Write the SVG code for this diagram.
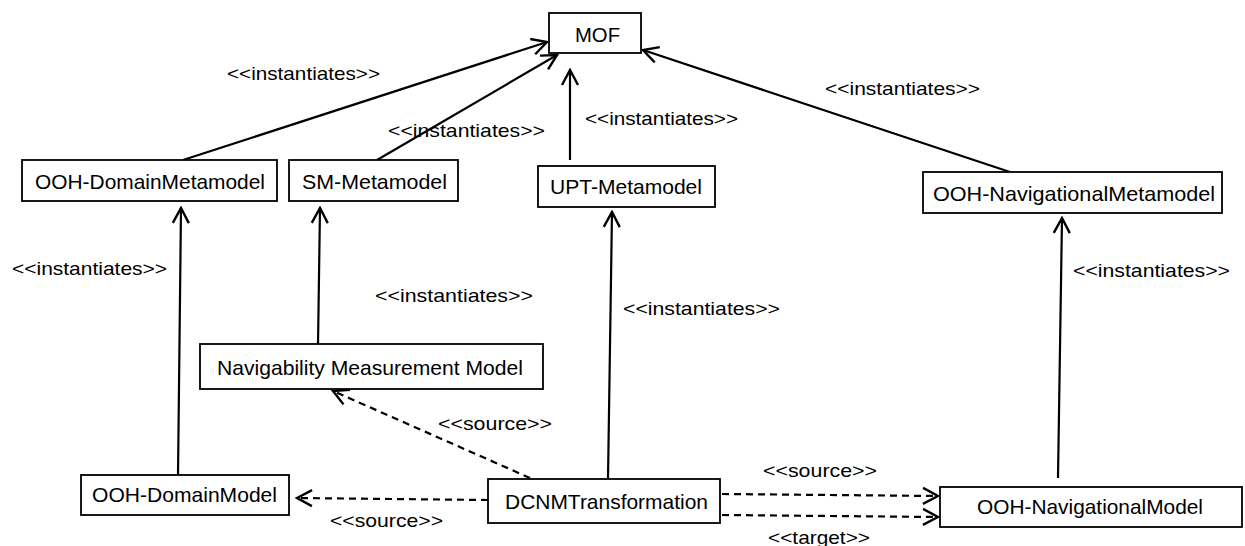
<svg xmlns="http://www.w3.org/2000/svg" width="1245" height="546" viewBox="0 0 1245 546">
<style>
.box{fill:#fff;stroke:#000;stroke-width:1.8}
.nt{font-family:"Liberation Sans",Arial,sans-serif;font-size:21px;fill:#000}
.lb{font-family:"Liberation Sans",Arial,sans-serif;font-size:19px;fill:#000}
.ln{fill:none;stroke:#000;stroke-width:2.2}
.ds{fill:none;stroke:#000;stroke-width:2.2;stroke-dasharray:7 5}
</style>
<defs>
<marker id="arr" viewBox="0 0 20 20" refX="18" refY="10" markerWidth="20" markerHeight="20" markerUnits="userSpaceOnUse" orient="auto">
<path d="M3,2 L18,10 L3,18" fill="none" stroke="#000" stroke-width="2.4"/>
</marker>
</defs>
<g id="connectors">
<line class="ln" x1="183" y1="160" x2="547" y2="42" marker-end="url(#arr)"/>
<line class="ln" x1="377" y1="160" x2="557" y2="55" marker-end="url(#arr)"/>
<line class="ln" x1="570" y1="160" x2="570" y2="70" marker-end="url(#arr)"/>
<line class="ln" x1="1010" y1="172" x2="643" y2="50" marker-end="url(#arr)"/>
<line class="ln" x1="178" y1="475" x2="181" y2="208" marker-end="url(#arr)"/>
<line class="ln" x1="318" y1="345" x2="320" y2="208" marker-end="url(#arr)"/>
<line class="ln" x1="608" y1="479" x2="612" y2="212" marker-end="url(#arr)"/>
<line class="ln" x1="1058" y1="478" x2="1062" y2="218" marker-end="url(#arr)"/>
<line class="ds" x1="530" y1="478" x2="333" y2="391" marker-end="url(#arr)"/>
<line class="ds" x1="488" y1="500" x2="297" y2="498" marker-end="url(#arr)"/>
<line class="ds" x1="722" y1="494" x2="938" y2="496" marker-end="url(#arr)"/>
<line class="ds" x1="722" y1="515" x2="938" y2="517" marker-end="url(#arr)"/>
<text class="lb" x="227" y="80" textLength="153" lengthAdjust="spacingAndGlyphs">&lt;&lt;instantiates&gt;&gt;</text>
<text class="lb" x="388" y="137" textLength="157" lengthAdjust="spacingAndGlyphs">&lt;&lt;instantiates&gt;&gt;</text>
<text class="lb" x="585" y="125" textLength="153" lengthAdjust="spacingAndGlyphs">&lt;&lt;instantiates&gt;&gt;</text>
<text class="lb" x="825" y="95" textLength="155" lengthAdjust="spacingAndGlyphs">&lt;&lt;instantiates&gt;&gt;</text>
<text class="lb" x="12" y="275" textLength="155" lengthAdjust="spacingAndGlyphs">&lt;&lt;instantiates&gt;&gt;</text>
<text class="lb" x="375" y="302" textLength="158" lengthAdjust="spacingAndGlyphs">&lt;&lt;instantiates&gt;&gt;</text>
<text class="lb" x="623" y="315" textLength="157" lengthAdjust="spacingAndGlyphs">&lt;&lt;instantiates&gt;&gt;</text>
<text class="lb" x="1073" y="277" textLength="157" lengthAdjust="spacingAndGlyphs">&lt;&lt;instantiates&gt;&gt;</text>
<text class="lb" x="438" y="430" textLength="114" lengthAdjust="spacingAndGlyphs">&lt;&lt;source&gt;&gt;</text>
<text class="lb" x="330" y="527" textLength="113" lengthAdjust="spacingAndGlyphs">&lt;&lt;source&gt;&gt;</text>
<text class="lb" x="763" y="477" textLength="114" lengthAdjust="spacingAndGlyphs">&lt;&lt;source&gt;&gt;</text>
<text class="lb" x="768" y="544" textLength="102" lengthAdjust="spacingAndGlyphs">&lt;&lt;target&gt;&gt;</text>
</g>
<g id="mof"><rect class="box" x="549" y="13" width="92" height="40"/><text class="nt" x="575" y="42" textLength="45" lengthAdjust="spacingAndGlyphs">MOF</text></g>
<g id="ooh-domain-metamodel"><rect class="box" x="22" y="160" width="255" height="41"/><text class="nt" x="35" y="189" textLength="230" lengthAdjust="spacingAndGlyphs">OOH-DomainMetamodel</text></g>
<g id="sm-metamodel"><rect class="box" x="289" y="160" width="169" height="41"/><text class="nt" x="302" y="189" textLength="145" lengthAdjust="spacingAndGlyphs">SM-Metamodel</text></g>
<g id="upt-metamodel"><rect class="box" x="538" y="166" width="177" height="41"/><text class="nt" x="550" y="194" textLength="152" lengthAdjust="spacingAndGlyphs">UPT-Metamodel</text></g>
<g id="ooh-navigational-metamodel"><rect class="box" x="923" y="172" width="299" height="41"/><text class="nt" x="933" y="201" textLength="282" lengthAdjust="spacingAndGlyphs">OOH-NavigationalMetamodel</text></g>
<g id="navigability-measurement-model"><rect class="box" x="200" y="344" width="343" height="45"/><text class="nt" x="217" y="375" textLength="306" lengthAdjust="spacingAndGlyphs">Navigability Measurement Model</text></g>
<g id="ooh-domain-model"><rect class="box" x="81" y="475" width="208" height="40"/><text class="nt" x="92" y="502" textLength="185" lengthAdjust="spacingAndGlyphs">OOH-DomainModel</text></g>
<g id="dcnm-transformation"><rect class="box" x="488" y="479" width="232" height="44"/><text class="nt" x="505" y="509" textLength="203" lengthAdjust="spacingAndGlyphs">DCNMTransformation</text></g>
<g id="ooh-navigational-model"><rect class="box" x="940" y="487" width="302" height="40"/><text class="nt" x="977" y="514" textLength="226" lengthAdjust="spacingAndGlyphs">OOH-NavigationalModel</text></g>
</svg>
